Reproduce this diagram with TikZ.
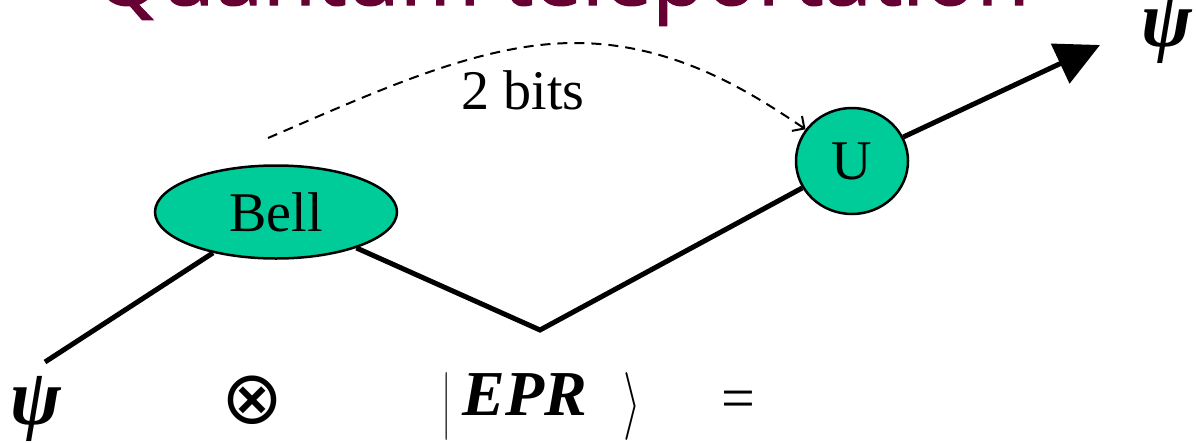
\documentclass[tikz,border=0pt]{standalone}
\usepackage{fontspec}
\usepackage{graphicx}
\setmainfont{Liberation Serif}
\newfontfamily\titlefont[FakeBold=1.5]{Open Sans}
\newfontfamily\symfont{DejaVu Sans}
\usetikzlibrary{shapes.geometric,arrows.meta}
\definecolor{gatefill}{HTML}{00CC99}
\definecolor{titlecol}{HTML}{660033}
\begin{document}
\begin{tikzpicture}[x=1pt,y=-1pt,
  gate/.style={ellipse, draw=black, line width=2.5pt, fill=gatefill, inner sep=0pt,
    font=\fontsize{56}{60}\selectfont},
  wire/.style={line width=5pt, line cap=butt, line join=miter},
  classical/.style={dashed, line width=2pt, dash pattern=on 10pt off 7pt},
  label/.style={inner sep=0pt, font=\fontsize{56}{60}\selectfont},
  greek/.style={inner sep=0pt, font=\fontsize{80}{84}\selectfont\bfseries\itshape}]
\useasboundingbox (0,0) rectangle (1196,442);
\clip (0,0) rectangle (1196,442);

% title, partly above the frame
\node[anchor=base west, inner sep=0pt, text=titlecol] (title) at (94,5)
  {\resizebox{935pt}{!}{\titlefont Quantum teleportation}};

% points of the wire
\coordinate (in) at (45,362);
\coordinate (dip) at (540,330);
\coordinate (out) at (1100,45);

% gates
\node[gate, minimum width=242pt, minimum height=93pt] (bell) at (276,212) {Bell};
\node[gate, minimum width=112pt, minimum height=106pt] (U) at (852,161) {U};

% quantum wire
\draw[wire] (in) -- (bell);
\draw[wire] (bell) -- (dip) -- (U);
\draw[wire, -{Triangle[length=44pt,width=43pt]}] (U) -- (out);

% classical channel
\coordinate (cstart) at (268,138);
\coordinate (cpeak) at (575,43);
\draw[classical, -{Straight Barb[length=9pt,width=18pt]}]
  (cstart) .. controls (380,90) and (480,43) .. (cpeak)
  .. controls (670,43) and (745,88) .. (U);
\node[label] (bits) at (523,90) {2 bits};

% state labels
\node[greek] (psiout) at (1167,31) {\scalebox{0.95}[1]{ψ}};
\node[greek] (psiin) at (36,409) {\scalebox{0.95}[1]{ψ}};
\node[inner sep=0pt] (tensor) at (252,400)
  {\symfont\fontsize{74}{78}\selectfont ⊗};
\node[inner sep=0pt] (bra) at (447,406) {\scalebox{3}[6.8]{$|$}};
\node[anchor=base, inner sep=0pt, font=\fontsize{64}{68}\selectfont\bfseries\itshape]
  (epr) at (525,415) {EPR};
\node[inner sep=0pt] (ket) at (632,406) {\scalebox{4.5}[6.8]{$\rangle$}};
\node[label, font=\fontsize{60}{64}\selectfont] (eq) at (738,405) {=};
\end{tikzpicture}
\end{document}
